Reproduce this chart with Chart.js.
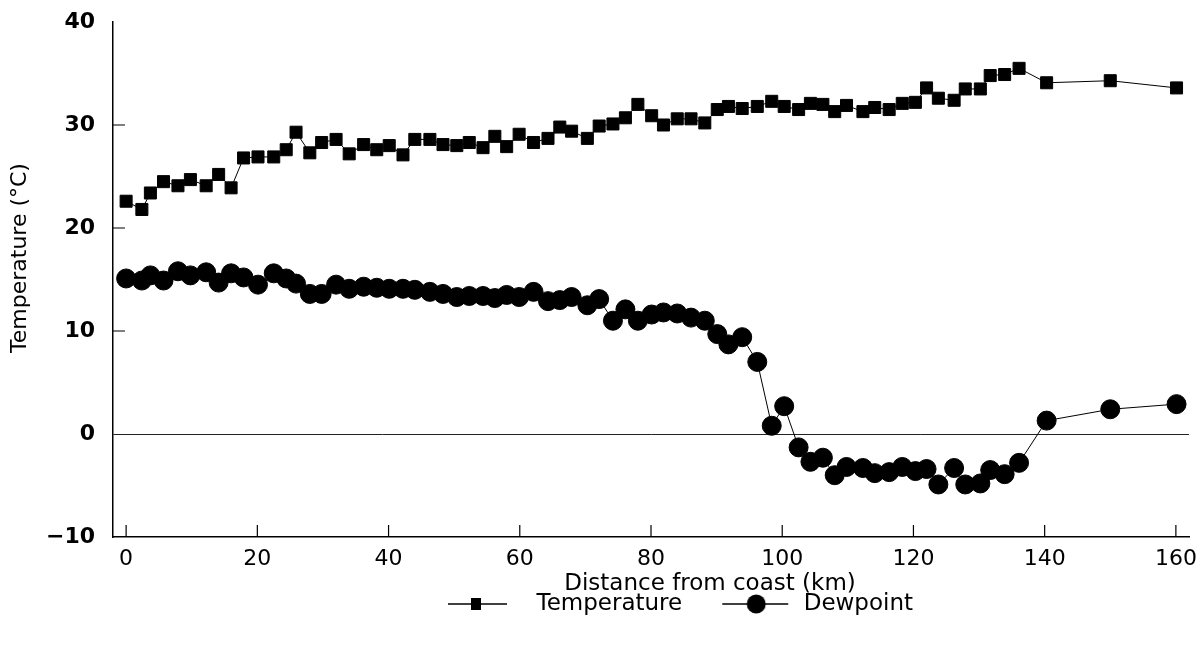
<!DOCTYPE html>
<html>
<head>
<meta charset="utf-8">
<script src="https://cdn.jsdelivr.net/npm/chart.js@4.4.1/dist/chart.umd.min.js"></script>
<style>
  html, body { margin: 0; padding: 0; background: #fff; }
  #wrap { width: 1202px; height: 645px; }
</style>
</head>
<body>
<div id="wrap"><canvas id="chart"></canvas></div>
<script>
const distanceKm = [0, 2.4, 3.7, 5.7, 7.9, 9.8, 12.2, 14.1, 16.0, 17.9,
  20.1, 22.5, 24.4, 25.9, 28.0, 29.8, 32.0, 34.0, 36.2, 38.2,
  40.1, 42.2, 44.0, 46.3, 48.3, 50.4, 52.3, 54.4, 56.2, 58.0,
  59.9, 62.1, 64.3, 66.1, 67.9, 70.3, 72.1, 74.2, 76.1, 78.0,
  80.1, 81.9, 84.0, 86.1, 88.2, 90.1, 91.8, 93.9, 96.2, 98.4,
  100.3, 102.5, 104.3, 106.2, 108.0, 109.8, 112.3, 114.1, 116.3, 118.3,
  120.3, 122.0, 123.8, 126.2, 127.9, 130.2, 131.7, 133.9, 136.1, 140.3,
  150.0, 160.1];

const temperature = [22.6, 21.8, 23.4, 24.5, 24.1, 24.7, 24.1, 25.2, 23.9, 26.8,
  26.9, 26.9, 27.6, 29.3, 27.3, 28.3, 28.6, 27.2, 28.1, 27.6,
  28.0, 27.1, 28.6, 28.6, 28.1, 28.0, 28.3, 27.8, 28.9, 27.9,
  29.1, 28.3, 28.7, 29.8, 29.4, 28.7, 29.9, 30.1, 30.7, 32.0,
  30.9, 30.0, 30.6, 30.6, 30.2, 31.5, 31.8, 31.6, 31.8, 32.3,
  31.8, 31.5, 32.1, 32.0, 31.3, 31.9, 31.3, 31.7, 31.5, 32.1,
  32.2, 33.6, 32.6, 32.4, 33.5, 33.5, 34.8, 34.9, 35.5, 34.1,
  34.3, 33.6];

const dewpoint = [15.1, 14.9, 15.4, 14.9, 15.8, 15.4, 15.7, 14.7, 15.6, 15.2,
  14.5, 15.6, 15.1, 14.6, 13.6, 13.6, 14.5, 14.1, 14.3, 14.2,
  14.1, 14.1, 14.0, 13.8, 13.6, 13.3, 13.4, 13.4, 13.2, 13.5,
  13.3, 13.8, 12.9, 13.0, 13.3, 12.5, 13.1, 11.0, 12.1, 11.0,
  11.6, 11.8, 11.7, 11.3, 11.0, 9.7, 8.7, 9.4, 7.0, 0.8,
  2.7, -1.3, -2.7, -2.3, -4.0, -3.2, -3.3, -3.8, -3.7, -3.2,
  -3.6, -3.4, -4.9, -3.3, -4.9, -4.8, -3.5, -3.9, -2.8, 1.3,
  2.4, 2.9];

const xTickValues = [0, 20, 40, 60, 80, 100, 120, 140, 160];
const yTickValues = [-10, 0, 10, 20, 30, 40];
const seriesNames = ["Temperature", "Dewpoint"];

const FONT = "'DejaVu Sans', sans-serif";

// legend icons: a short line with the marker on it
function legendIcon(shape, lineFrom, lineTo, markerX) {
  const c = document.createElement("canvas");
  c.width = 80;
  c.height = 24;
  const g = c.getContext("2d");
  g.strokeStyle = "#000";
  g.lineWidth = 1.3;
  g.beginPath();
  g.moveTo(lineFrom, 12);
  g.lineTo(lineTo, 12);
  g.stroke();
  g.fillStyle = "#000";
  if (shape === "rect") {
    g.fillRect(markerX - 5, 6, 10, 12);
  } else {
    g.beginPath();
    g.arc(markerX, 12, 9.5, 0, Math.PI * 2);
    g.fill();
  }
  return c;
}
const legendIcons = [legendIcon("rect", 3, 62, 31), legendIcon("circle", 10, 76, 44)];

const extras = {
  id: "extras",
  afterUpdate(chart) {
    // move legend row to where the original has it
    const lg = chart.legend;
    if (!lg || !lg.legendHitBoxes.length) return;
    const hb = lg.legendHitBoxes[0];
    const dx = 445 - hb.left;
    const dy = 604 - (hb.top + hb.height / 2);
    lg.left += dx; lg.right += dx;
    lg.top += dy; lg.bottom += dy;
    for (const b of lg.legendHitBoxes) { b.left += dx; b.top += dy; }
  },
  afterDraw(chart) {
    const { ctx, chartArea, scales: { x, y } } = chart;
    ctx.save();
    ctx.strokeStyle = "#000";
    ctx.lineWidth = 1.2;
    ctx.beginPath();
    for (const v of xTickValues) {
      const px = x.getPixelForValue(v);
      ctx.moveTo(px, chartArea.bottom);
      ctx.lineTo(px, chartArea.bottom - 12);
    }
    for (const v of yTickValues) {
      if (v === y.min || v === y.max || v === 0) continue;
      const py = y.getPixelForValue(v);
      ctx.moveTo(chartArea.left, py);
      ctx.lineTo(chartArea.left + 12, py);
    }
    ctx.stroke();

    ctx.fillStyle = "#000";
    ctx.textAlign = "center";
    ctx.textBaseline = "middle";
    ctx.font = "23px " + FONT;
    ctx.fillText("Distance from coast (km)", 710, 584);
    ctx.translate(20, 258);
    ctx.rotate(-Math.PI / 2);
    ctx.font = "22px " + FONT;
    ctx.fillText("Temperature (°C)", 0, 0);
    ctx.restore();
  }
};

new Chart(document.getElementById("chart"), {
  type: "line",
  data: {
    datasets: [
      {
        label: seriesNames[0],
        data: distanceKm.map((d, i) => ({ x: d, y: temperature[i] })),
        borderColor: "#000",
        borderWidth: 1,
        pointStyle: "rect",
        pointRadius: 8.5,
        pointBackgroundColor: "#000",
        pointBorderColor: "#000",
        pointBorderWidth: 1,
      },
      {
        label: seriesNames[1],
        data: distanceKm.map((d, i) => ({ x: d, y: dewpoint[i] })),
        borderColor: "#000",
        borderWidth: 1,
        pointStyle: "circle",
        pointRadius: 9.5,
        pointBackgroundColor: "#000",
        pointBorderColor: "#000",
        pointBorderWidth: 1,
      },
    ],
  },
  options: {
    responsive: true,
    maintainAspectRatio: false,
    animation: false,
    layout: { padding: { left: 0, right: 13, top: 22, bottom: 0 } },
    plugins: {
      tooltip: { enabled: false },
      legend: {
        position: "bottom",
        labels: {
          usePointStyle: true,
          pointStyleWidth: 80,
          padding: 30,
          color: "#000",
          font: { family: FONT, size: 23 },
          generateLabels(chart) {
            const items = Chart.defaults.plugins.legend.labels.generateLabels(chart);
            items.forEach((it, i) => { it.pointStyle = legendIcons[i]; });
            return items;
          },
        },
      },
    },
    scales: {
      x: {
        type: "linear",
        min: -2,
        max: 162,
        afterBuildTicks(scale) { scale.ticks = xTickValues.map((v) => ({ value: v })); },
        afterFit(scale) {
          const lh = scale.chart.legend ? scale.chart.legend.height : 0;
          scale.height = 645 - 537 - lh;
          scale.paddingLeft = 0;
          scale.paddingRight = 0;
        },
        grid: { display: false, drawTicks: false },
        border: { display: true, color: "#000", width: 1.5 },
        ticks: {
          padding: 9,
          color: "#000",
          font: { family: FONT, size: 22 },
          maxRotation: 0,
        },
      },
      y: {
        min: -10,
        max: 40,
        afterBuildTicks(scale) { scale.ticks = yTickValues.map((v) => ({ value: v })); },
        afterFit(scale) {
          scale.width = 113;
          scale.paddingTop = 0;
          scale.paddingBottom = 0;
        },
        grid: {
          drawTicks: false,
          color: (c) => (c.tick && c.tick.value === 0 ? "#222" : "rgba(0,0,0,0)"),
          lineWidth: 1,
        },
        border: { display: true, color: "#000", width: 1.5 },
        ticks: {
          padding: 18,
          color: "#000",
          font: { family: FONT, size: 22, weight: "bold" },
          callback: (v) => (v < 0 ? "\u2212" + Math.abs(v) : String(v)),
        },
      },
    },
  },
  plugins: [extras],
});
</script>
</body>
</html>
